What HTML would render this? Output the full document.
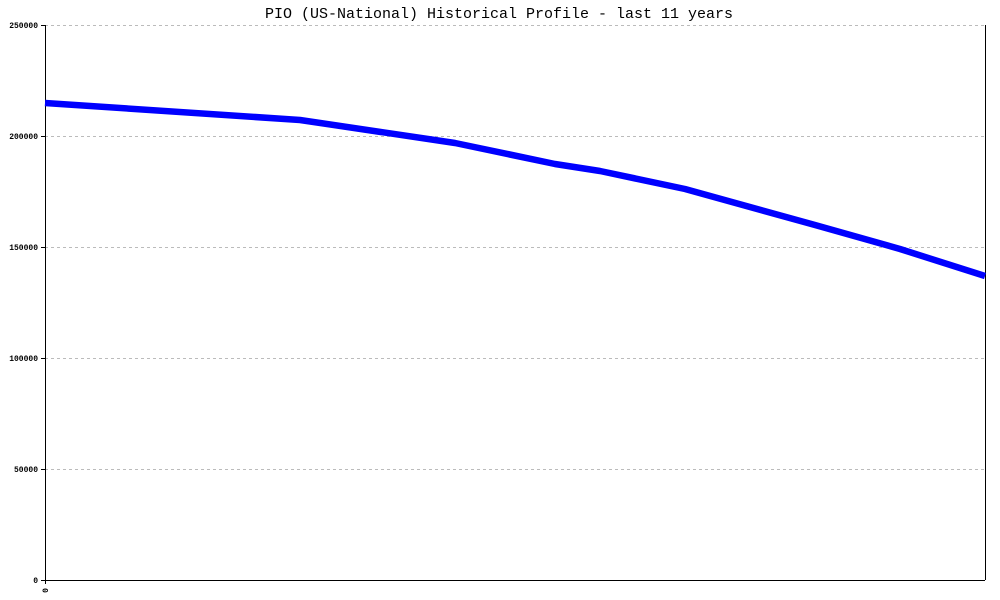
<!DOCTYPE html>
<html><head><style>body{margin:0;background:#fff}svg{display:block}</style></head>
<body>
<svg width="1000" height="600" xmlns="http://www.w3.org/2000/svg" font-family="Liberation Mono, monospace">
<rect width="1000" height="600" fill="#fff"/>
<g stroke="#bbb" stroke-width="1" stroke-dasharray="3,3">
<line x1="45" y1="25.5" x2="985" y2="25.5"/>
<line x1="45" y1="136.5" x2="985" y2="136.5"/>
<line x1="45" y1="247.5" x2="985" y2="247.5"/>
<line x1="45" y1="358.5" x2="985" y2="358.5"/>
<line x1="45" y1="469.5" x2="985" y2="469.5"/>
</g>
<g stroke="#000" stroke-width="1">
<line x1="45.5" y1="25" x2="45.5" y2="584"/>
<line x1="985.5" y1="25" x2="985.5" y2="580"/>
<line x1="41" y1="580.5" x2="985" y2="580.5"/>
<line x1="41" y1="25.5" x2="45" y2="25.5"/>
<line x1="41" y1="136.5" x2="45" y2="136.5"/>
<line x1="41" y1="247.5" x2="45" y2="247.5"/>
<line x1="41" y1="358.5" x2="45" y2="358.5"/>
<line x1="41" y1="469.5" x2="45" y2="469.5"/>
</g>
<g font-size="8" font-weight="bold" text-anchor="end" fill="#000">
<text x="38" y="28">250000</text>
<text x="38" y="139">200000</text>
<text x="38" y="250">150000</text>
<text x="38" y="361">100000</text>
<text x="38" y="472">50000</text>
<text x="38" y="583">0</text>
</g>
<text transform="translate(48,588) rotate(-90)" font-size="8" font-weight="bold" text-anchor="end">0</text>
<text x="499" y="18" font-size="15" text-anchor="middle">PIO (US-National) Historical Profile - last 11 years</text>
<polyline fill="none" stroke="#0000ff" stroke-width="6.5" stroke-linejoin="round"
points="45,103 300,120 455,143 555,164 600,171 685,189 815,225 900,249 985,276"/>
</svg>
</body></html>
